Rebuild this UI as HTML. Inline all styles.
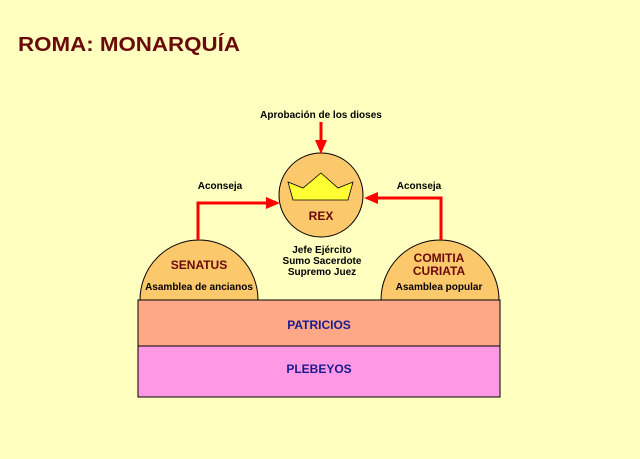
<!DOCTYPE html>
<html><head><meta charset="utf-8"><style>
html,body{margin:0;padding:0;background:#ffffc0;}
svg{display:block;}
text{font-family:"Liberation Sans",sans-serif;font-weight:bold;}
</style></head><body>
<svg width="640" height="459" viewBox="0 0 640 459">
<rect width="640" height="459" fill="#ffffc0"/>
<text x="18" y="51" font-size="20" fill="#6b0a0a" textLength="222" lengthAdjust="spacingAndGlyphs">ROMA: MONARQUÍA</text>
<!-- domes -->
<path d="M140,300 A59,60 0 0 1 258,300 Z" fill="#fcc86c" stroke="#000" stroke-width="1"/>
<path d="M381,300 A59,60 0 0 1 499,300 Z" fill="#fcc86c" stroke="#000" stroke-width="1"/>
<!-- layers -->
<rect x="138" y="300" width="362" height="46" fill="#ffa888" stroke="#000" stroke-width="1"/>
<rect x="138" y="346" width="362" height="51" fill="#ff99e6" stroke="#000" stroke-width="1"/>
<text x="319" y="329" font-size="12" fill="#1a1a8c" text-anchor="middle">PATRICIOS</text>
<text x="319" y="373" font-size="12" fill="#1a1a8c" text-anchor="middle">PLEBEYOS</text>
<!-- circle -->
<circle cx="321" cy="195" r="42" fill="#fcc86c" stroke="#000" stroke-width="1"/>
<polygon points="288,182 303,188 321,173 338,188 353,182 348,200 293,200" fill="#ffff33" stroke="#000" stroke-width="0.8"/>
<text x="321" y="220" font-size="12" fill="#6b0a0a" text-anchor="middle">REX</text>
<!-- arrows -->
<g stroke="#ff0000" stroke-width="3" fill="none">
<line x1="321" y1="122" x2="321" y2="142"/>
<polyline points="198,240 198,203 268,203"/>
<polyline points="441,240 441,198 376,198"/>
</g>
<g fill="#ff0000">
<polygon points="315,140 327,140 321,154"/>
<polygon points="266,197 266,209 280,203"/>
<polygon points="378,192 378,204 364,198"/>
</g>
<g font-size="10" fill="#000" text-anchor="middle">
<text x="321" y="118">Aprobación de los dioses</text>
<text x="220" y="189">Aconseja</text>
<text x="419" y="189">Aconseja</text>
<text x="322" y="253">Jefe Ejército</text>
<text x="322" y="264">Sumo Sacerdote</text>
<text x="322" y="275">Supremo Juez</text>
<text x="199" y="290">Asamblea de ancianos</text>
<text x="439" y="290">Asamblea popular</text>
</g>
<g font-size="12" fill="#6b0a0a" text-anchor="middle">
<text x="199" y="269">SENATUS</text>
<text x="439" y="262">COMITIA</text>
<text x="439" y="275">CURIATA</text>
</g>
</svg>
</body></html>
